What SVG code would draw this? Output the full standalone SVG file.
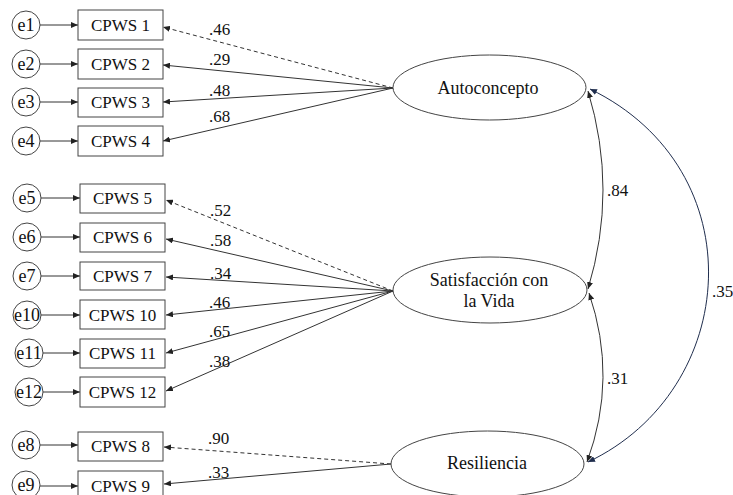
<svg xmlns="http://www.w3.org/2000/svg" width="733" height="495" viewBox="0 0 733 495">
<defs>
<marker id="ah" markerUnits="userSpaceOnUse" markerWidth="8" markerHeight="6" refX="7" refY="3" orient="auto-start-reverse">
<path d="M0,0 L7,3 L0,6 z" fill="#222"/>
</marker>
<marker id="ahn" markerUnits="userSpaceOnUse" markerWidth="8" markerHeight="6" refX="7" refY="3" orient="auto-start-reverse">
<path d="M0,0 L7,3 L0,6 z" fill="#1f2d4d"/>
</marker>
<style>
text{font-family:"Liberation Serif","Times New Roman",serif;fill:#111}
.box{fill:#fff;stroke:#444;stroke-width:1}
.err{fill:#fff;stroke:#444;stroke-width:1}
.lat{fill:#fff;stroke:#444;stroke-width:1}
.bt{font-size:17px;text-anchor:middle}
.et{font-size:18px;text-anchor:middle}
.lt{font-size:18px;text-anchor:middle}
.num{font-size:17px}
.ln{stroke:#333;stroke-width:1;fill:none;marker-end:url(#ah)}
.dash{stroke-dasharray:4,3}
.cov{stroke:#333;stroke-width:1;fill:none;marker-start:url(#ah);marker-end:url(#ah)}
.covn{stroke:#1f2d4d;stroke-width:1;fill:none;marker-start:url(#ahn);marker-end:url(#ahn)}
</style>
</defs>
<rect width="733" height="495" fill="#fff"/>

<g id="connectors">
<!-- error arrows -->
<line class="ln" x1="40" y1="25" x2="78" y2="25"/>
<line class="ln" x1="40" y1="64" x2="78" y2="64"/>
<line class="ln" x1="40" y1="102" x2="78" y2="102"/>
<line class="ln" x1="40" y1="141" x2="78" y2="141"/>
<line class="ln" x1="41" y1="198" x2="80" y2="198"/>
<line class="ln" x1="41" y1="237" x2="80" y2="237"/>
<line class="ln" x1="41" y1="276" x2="80" y2="276"/>
<line class="ln" x1="41" y1="315" x2="80" y2="315"/>
<line class="ln" x1="43" y1="353" x2="80" y2="353"/>
<line class="ln" x1="43" y1="392" x2="80" y2="392"/>
<line class="ln" x1="40" y1="445" x2="78" y2="445"/>
<line class="ln" x1="40" y1="486" x2="78" y2="486"/>
<!-- Autoconcepto loadings -->
<line class="ln dash" x1="393" y1="88" x2="163" y2="27"/>
<line class="ln" x1="393" y1="88" x2="163" y2="65"/>
<line class="ln" x1="393" y1="88" x2="163" y2="102"/>
<line class="ln" x1="393" y1="88" x2="163" y2="141"/>
<!-- Satisfaccion loadings -->
<line class="ln dash" x1="393" y1="291" x2="166" y2="200"/>
<line class="ln" x1="393" y1="291" x2="166" y2="239"/>
<line class="ln" x1="393" y1="291" x2="166" y2="277"/>
<line class="ln" x1="393" y1="291" x2="166" y2="315"/>
<line class="ln" x1="393" y1="291" x2="166" y2="353"/>
<line class="ln" x1="393" y1="291" x2="166" y2="391"/>
<!-- Resiliencia loadings -->
<line class="ln dash" x1="391" y1="464" x2="164" y2="447"/>
<line class="ln" x1="391" y1="464" x2="164" y2="484"/>
<!-- covariances -->
<path class="cov" d="M588,91 Q618,190 588,289"/>
<path class="cov" d="M589,293 Q618,378 587,462"/>
<path class="covn" d="M590,89 C756.5,170 740,390 588,462"/>
</g>

<g id="labels">
<text class="num" x="209" y="35">.46</text>
<text class="num" x="209" y="65">.29</text>
<text class="num" x="209" y="96">.48</text>
<text class="num" x="209" y="122">.68</text>
<text class="num" x="210" y="216">.52</text>
<text class="num" x="210" y="246">.58</text>
<text class="num" x="210" y="279">.34</text>
<text class="num" x="209" y="308">.46</text>
<text class="num" x="209" y="337">.65</text>
<text class="num" x="209" y="367">.38</text>
<text class="num" x="208" y="444">.90</text>
<text class="num" x="208" y="478">.33</text>
<text class="num" x="607" y="196">.84</text>
<text class="num" x="607" y="384">.31</text>
<text class="num" x="712" y="297">.35</text>
</g>

<g id="e1"><circle class="err" cx="26" cy="25" r="14"/><text class="et" x="26" y="31">e1</text></g>
<g id="e2"><circle class="err" cx="26" cy="64" r="14"/><text class="et" x="26" y="70">e2</text></g>
<g id="e3"><circle class="err" cx="26" cy="102" r="14"/><text class="et" x="26" y="108">e3</text></g>
<g id="e4"><circle class="err" cx="26" cy="141" r="14"/><text class="et" x="26" y="147">e4</text></g>
<g id="e5"><circle class="err" cx="27" cy="198" r="14"/><text class="et" x="27" y="204">e5</text></g>
<g id="e6"><circle class="err" cx="27" cy="237" r="14"/><text class="et" x="27" y="243">e6</text></g>
<g id="e7"><circle class="err" cx="27" cy="276" r="14"/><text class="et" x="27" y="282">e7</text></g>
<g id="e10"><circle class="err" cx="27" cy="315" r="14"/><text class="et" x="27" y="321">e10</text></g>
<g id="e11"><circle class="err" cx="29" cy="353" r="14"/><text class="et" x="29" y="359">e11</text></g>
<g id="e12"><circle class="err" cx="29" cy="392" r="14"/><text class="et" x="29" y="398">e12</text></g>
<g id="e8"><circle class="err" cx="26" cy="445" r="14"/><text class="et" x="26" y="451">e8</text></g>
<g id="e9"><circle class="err" cx="26" cy="485" r="14"/><text class="et" x="26" y="491">e9</text></g>

<g id="cpws1"><rect class="box" x="78" y="10" width="85" height="30"/><text class="bt" x="120.5" y="31">CPWS 1</text></g>
<g id="cpws2"><rect class="box" x="78" y="49" width="85" height="30"/><text class="bt" x="120.5" y="70">CPWS 2</text></g>
<g id="cpws3"><rect class="box" x="78" y="88" width="85" height="29"/><text class="bt" x="120.5" y="108">CPWS 3</text></g>
<g id="cpws4"><rect class="box" x="78" y="126" width="85" height="30"/><text class="bt" x="120.5" y="147">CPWS 4</text></g>
<g id="cpws5"><rect class="box" x="80" y="184" width="85" height="29"/><text class="bt" x="122.5" y="204">CPWS 5</text></g>
<g id="cpws6"><rect class="box" x="80" y="223" width="85" height="29"/><text class="bt" x="122.5" y="243">CPWS 6</text></g>
<g id="cpws7"><rect class="box" x="80" y="262" width="85" height="28"/><text class="bt" x="122.5" y="282">CPWS 7</text></g>
<g id="cpws10"><rect class="box" x="80" y="300" width="85" height="29"/><text class="bt" x="122.5" y="321">CPWS 10</text></g>
<g id="cpws11"><rect class="box" x="80" y="339" width="85" height="29"/><text class="bt" x="122.5" y="359">CPWS 11</text></g>
<g id="cpws12"><rect class="box" x="80" y="377" width="85" height="30"/><text class="bt" x="122.5" y="398">CPWS 12</text></g>
<g id="cpws8"><rect class="box" x="78" y="432" width="85" height="29"/><text class="bt" x="120.5" y="452">CPWS 8</text></g>
<g id="cpws9"><rect class="box" x="78" y="471" width="85" height="30"/><text class="bt" x="120.5" y="492">CPWS 9</text></g>

<g id="autoconcepto"><ellipse class="lat" cx="489.5" cy="87.5" rx="96.5" ry="32.5"/><text class="lt" x="488" y="94">Autoconcepto</text></g>
<g id="satisfaccion"><ellipse class="lat" cx="490" cy="290" rx="97" ry="33"/><text class="lt" x="489" y="286">Satisfacción con</text><text class="lt" x="489" y="307">la Vida</text></g>
<g id="resiliencia"><ellipse class="lat" cx="487.5" cy="464" rx="96.5" ry="33"/><text class="lt" x="487" y="469">Resiliencia</text></g>
</svg>
